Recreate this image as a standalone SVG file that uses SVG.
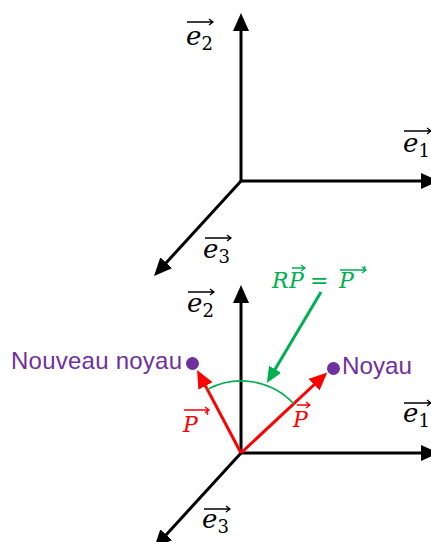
<svg xmlns="http://www.w3.org/2000/svg" width="431" height="542" viewBox="0 0 431 542">
<style>
.ax{stroke:#000;stroke-width:3;fill:none}
.red{stroke:#FF0000;stroke-width:3;fill:none}
.grn{stroke:#00B050;fill:none}
.m{font-family:"DejaVu Serif",serif;font-style:italic;font-size:26px;fill:#000}
.sub{font-family:"DejaVu Serif",serif;font-style:normal;font-size:18px}
.vbar{stroke-width:1.3;fill:none}
.lbl{font-family:"Liberation Sans",Arial,sans-serif;font-size:24px;fill:#7030A0}
.rm{font-family:"DejaVu Serif",serif;font-style:italic;font-size:22px}
.pr{font-family:"DejaVu Serif",serif;font-style:normal;font-size:18px}
</style>
<defs>
<marker id="ahK" viewBox="0 0 18 16" markerWidth="18" markerHeight="16" refX="4" refY="8" orient="auto" markerUnits="userSpaceOnUse"><path d="M0,0 L18,8 L0,16 z" fill="#000"/></marker>
<marker id="ahR" viewBox="0 0 18 16" markerWidth="18" markerHeight="16" refX="4" refY="8" orient="auto" markerUnits="userSpaceOnUse"><path d="M0,0 L18,8 L0,16 z" fill="#FF0000"/></marker>
<marker id="ahG" viewBox="0 0 16 14" markerWidth="16" markerHeight="14" refX="4" refY="7" orient="auto" markerUnits="userSpaceOnUse"><path d="M0,0 L16,7 L0,14 z" fill="#00B050"/></marker>
</defs>

<g id="connectors">
<line class="ax" x1="241" y1="181" x2="241" y2="27" marker-end="url(#ahK)"/>
<line class="ax" x1="240" y1="181" x2="425" y2="181" marker-end="url(#ahK)"/>
<line class="ax" x1="241" y1="181" x2="163.5" y2="265.7" marker-end="url(#ahK)"/>
<line class="ax" x1="241" y1="453" x2="241" y2="299" marker-end="url(#ahK)"/>
<line class="ax" x1="240" y1="453" x2="425" y2="453" marker-end="url(#ahK)"/>
<line class="ax" x1="241" y1="453" x2="163.5" y2="537.7" marker-end="url(#ahK)"/>
<line class="red" x1="241" y1="453" x2="317" y2="382" marker-end="url(#ahR)"/>
<line class="red" x1="241" y1="453" x2="203.6" y2="382.4" marker-end="url(#ahR)"/>
<path class="grn" stroke-width="1.6" d="M207.3,389.4 A72,72 0 0 1 294,404"/>
<line class="grn" stroke-width="3" x1="321" y1="292" x2="273" y2="372.7" marker-end="url(#ahG)"/>
</g>

<g id="e2-top">
<text class="m" x="186" y="45">e<tspan class="sub" dy="5">2</tspan></text>
<path class="vbar" stroke="#000" d="M187,22 H213 M209,19 L213,22 L209,25"/>
</g>
<g id="e1-top">
<text class="m" x="403" y="152">e<tspan class="sub" dy="5">1</tspan></text>
<path class="vbar" stroke="#000" d="M404,131 H431 M427,128 L431,131 L427,134"/>
</g>
<g id="e3-top">
<text class="m" x="203" y="258">e<tspan class="sub" dy="5">3</tspan></text>
<path class="vbar" stroke="#000" d="M205,238 H231 M227,235 L231,238 L227,241"/>
</g>

<g id="e2-bottom">
<text class="m" x="187" y="312">e<tspan class="sub" dy="5">2</tspan></text>
<path class="vbar" stroke="#000" d="M188,292 H214 M210,289 L214,292 L210,295"/>
</g>
<g id="e1-bottom">
<text class="m" x="403" y="422">e<tspan class="sub" dy="5">1</tspan></text>
<path class="vbar" stroke="#000" d="M404,403 H431 M427,400 L431,403 L427,406"/>
</g>
<g id="e3-bottom">
<text class="m" x="202" y="528">e<tspan class="sub" dy="5">3</tspan></text>
<path class="vbar" stroke="#000" d="M204,509 H230 M226,506 L230,509 L226,512"/>
</g>

<g id="label-RP">
<text class="rm" fill="#00B050" x="272" y="288">R<tspan x="289">P</tspan><tspan x="310" font-style="normal">=</tspan><tspan x="339">P</tspan><tspan class="pr" x="362" y="280">'</tspan></text>
<path class="vbar" stroke="#00B050" d="M292,268 H305 M301,265 L305,268 L301,271"/>
<path class="vbar" stroke="#00B050" d="M340,270 H366 M362,267 L366,270 L362,273"/>
</g>

<g id="label-P">
<text class="rm" fill="#FF0000" x="293" y="427">P</text>
<path class="vbar" stroke="#FF0000" d="M297,405 H310 M306,402 L310,405 L306,408"/>
</g>
<g id="label-Pprime">
<text class="rm" fill="#FF0000" x="183" y="432">P</text>
<text class="pr" fill="#FF0000" x="205" y="424">'</text>
<path class="vbar" stroke="#FF0000" d="M184,410 H209 M205,407 L209,410 L205,413"/>
</g>

<g id="nouveau-noyau">
<circle cx="192.5" cy="363.5" r="6.5" fill="#7030A0"/>
<text class="lbl" x="11" y="369" textLength="171" lengthAdjust="spacing">Nouveau noyau</text>
</g>
<g id="noyau">
<circle cx="333.5" cy="368.5" r="6.5" fill="#7030A0"/>
<text class="lbl" x="342" y="374" textLength="70" lengthAdjust="spacingAndGlyphs">Noyau</text>
</g>
</svg>
